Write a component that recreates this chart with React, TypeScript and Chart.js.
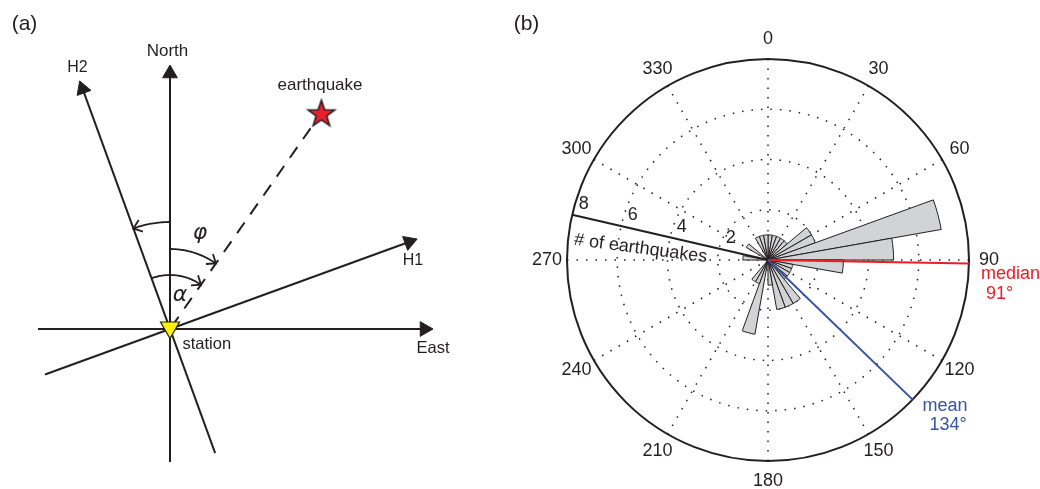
import React, { useEffect, useRef } from "react";
import { Chart, registerables } from "chart.js";
Chart.register(...registerables);

const FONT = '"Liberation Sans", Arial, sans-serif';
const INK = "#231f20";
const RED = "#ed1c24";
const BLUE = "#3953a4";

// ---------- Panel (b): rose diagram of back-azimuths ----------
const BIN_START_DEG = [0, 10, 20, 30, 40, 50, 60, 70, 80, 90, 100, 110, 120, 130, 140, 150, 160, 170, 180, 190, 200, 210, 220, 230, 240, 250, 260, 270, 280, 290, 300, 310, 320, 330, 340, 350];
const EQ_COUNTS = [1, 1, 1, 1, 1, 2, 2, 7, 5, 3, 1, 1, 1, 1, 2, 2, 2, 1, 0, 3, 1, 1, 0, 0, 0, 0, 0, 1, 0, 0, 1, 0, 0, 1, 1, 1];
const AZIMUTH_LABELS = ["0", "30", "60", "90", "120", "150", "180", "210", "240", "270", "300", "330"];
const COUNT_TICKS = [2, 4, 6, 8];
const COUNT_MAX = 8;
const COUNT_AXIS_DEG = 283;
const COUNT_AXIS_TITLE = "# of earthquakes";
const MEDIAN_DEG = 91;
const MEAN_DEG = 134;

// ---------- Panel (a): sketch geometry (station at origin, bearings from north) ----------
const AXIS_BEARINGS = [0, 90, 70, 340];
const AXIS_TAIL = [-133, -132, -133, -132];
const AXIS_TIP = [264, 263, 263, 264];
const QUAKE_BEARING = 35;
const QUAKE_DIST = 264;
const QUAKE_RAY = [2, 248];
const ARC_FROM = [0, -20, 0];
const ARC_TO = [35, 35, -20];
const ARC_RADIUS = [80, 54, 107];

const rad = (d: number) => (d * Math.PI) / 180;
const pt = (bearing: number, r: number) => ({ x: r * Math.sin(rad(bearing)), y: r * Math.cos(rad(bearing)) });

function makeStar(): HTMLCanvasElement {
  const c = document.createElement("canvas");
  c.width = 34;
  c.height = 34;
  const g = c.getContext("2d")!;
  g.beginPath();
  for (let i = 0; i < 10; i++) {
    const rr = i % 2 === 0 ? 14 : 5.6;
    const a = -Math.PI / 2 + (i * Math.PI) / 5;
    const x = 17 + rr * Math.cos(a);
    const y = 18.5 + rr * Math.sin(a);
    if (i === 0) g.moveTo(x, y);
    else g.lineTo(x, y);
  }
  g.closePath();
  g.fillStyle = "#e8202a";
  g.fill();
  g.lineWidth = 1.6;
  g.strokeStyle = INK;
  g.stroke();
  return c;
}

function sketchDatasets(): any[] {
  const ds: any[] = [];
  // station marker
  ds.push({
    data: [{ x: 0, y: 1.5 }],
    showLine: false,
    pointStyle: "triangle",
    rotation: 180,
    pointRadius: 11,
    backgroundColor: "#fff200",
    borderColor: INK,
    borderWidth: 1.2,
  });
  // earthquake marker
  ds.push({
    data: [pt(QUAKE_BEARING, QUAKE_DIST)],
    showLine: false,
    pointStyle: makeStar(),
    pointRadius: 14,
  });
  // axis arrowheads
  AXIS_BEARINGS.forEach((b, i) => {
    ds.push({
      data: [pt(b, AXIS_TIP[i] - 8.5)],
      showLine: false,
      pointStyle: "triangle",
      rotation: b,
      pointRadius: 8.5,
      backgroundColor: INK,
      borderColor: INK,
      borderWidth: 1,
    });
  });
  // axis lines
  AXIS_BEARINGS.forEach((b, i) => {
    ds.push({
      data: [pt(b, AXIS_TAIL[i]), pt(b, AXIS_TIP[i] - 8)],
      showLine: true,
      pointRadius: 0,
      borderColor: INK,
      borderWidth: 2,
    });
  });
  // dashed line to earthquake
  ds.push({
    data: [pt(QUAKE_BEARING, QUAKE_RAY[0]), pt(QUAKE_BEARING, QUAKE_RAY[1])],
    showLine: true,
    pointRadius: 0,
    borderColor: INK,
    borderWidth: 2,
    borderDash: [13, 10],
  });
  // angle arcs with open arrowheads
  ARC_FROM.forEach((from, i) => {
    const to = ARC_TO[i];
    const r = ARC_RADIUS[i];
    const s = Math.sign(to - from);
    const pts: any[] = [];
    for (let b = from; s * (to - b) >= 0; b += s) pts.push(pt(b, r));
    ds.push({ data: pts, showLine: true, pointRadius: 0, borderColor: INK, borderWidth: 1.8, tension: 0 });
    const tip = pt(to, r);
    const tx = s * Math.cos(rad(to));
    const ty = s * -Math.sin(rad(to));
    const L = 10;
    const th = rad(38);
    const wing = (sg: number) => {
      const c = Math.cos(sg * th), sn = Math.sin(sg * th);
      const rx = tx * c - ty * sn;
      const ry = tx * sn + ty * c;
      return { x: tip.x - L * rx, y: tip.y - L * ry };
    };
    ds.push({ data: [wing(1), tip, wing(-1)], showLine: true, pointRadius: 0, borderColor: INK, borderWidth: 1.8 });
  });
  return ds;
}

const sketchText = {
  id: "sketchText",
  afterDatasetsDraw(chart: any) {
    const { ctx } = chart;
    const x = chart.scales.x;
    const y = chart.scales.y;
    const put = (t: string, vx: number, vy: number, font: string, align: CanvasTextAlign = "center") => {
      ctx.save();
      ctx.font = font;
      ctx.textAlign = align;
      ctx.textBaseline = "middle";
      ctx.fillStyle = INK;
      ctx.fillText(t, x.getPixelForValue(vx), y.getPixelForValue(vy));
      ctx.restore();
    };
    const f17 = `17px ${FONT}`;
    put("(a)", -145.5, 305, `21px ${FONT}`);
    put("North", -2.5, 277.5, f17);
    put("H2", -92.5, 261, `16px ${FONT}`);
    put("earthquake", 150, 243.5, f17);
    put("H1", 243, 68, `16px ${FONT}`);
    put("East", 263, -19.5, `16.5px ${FONT}`);
    put("station", 12.5, -15.5, `16.5px ${FONT}`, "left");
    put("φ", 30, 96, `italic 22px "DejaVu Sans", ${FONT}`);
    put("α", 10, 34, `italic 22px "DejaVu Sans", ${FONT}`);
  },
};

const roseAnnotations = {
  id: "roseAnnotations",
  afterDatasetsDraw(chart: any) {
    const r = chart.scales.r;
    const ctx = chart.ctx as CanvasRenderingContext2D;
    const ray = (deg: number, value: number) => r.getPointPosition(0, r.getDistanceFromCenterForValue(value), rad(deg));
    const line = (deg: number, color: string, w: number) => {
      const e = ray(deg, COUNT_MAX);
      ctx.save();
      ctx.beginPath();
      ctx.moveTo(r.xCenter, r.yCenter);
      ctx.lineTo(e.x, e.y);
      ctx.strokeStyle = color;
      ctx.lineWidth = w;
      ctx.stroke();
      ctx.restore();
      return e;
    };
    const text = (t: string, x: number, y: number, color: string, align: CanvasTextAlign = "center", size = 18) => {
      ctx.save();
      ctx.font = `${size}px ${FONT}`;
      ctx.fillStyle = color;
      ctx.textAlign = align;
      ctx.textBaseline = "middle";
      ctx.fillText(t, x, y);
      ctx.restore();
    };

    // azimuth labels
    AZIMUTH_LABELS.forEach((lab) => {
      const idx = BIN_START_DEG.indexOf(Number(lab));
      const p = r.getPointPosition(idx, r.drawingArea + 20);
      text(lab, p.x, p.y, INK);
    });

    // count axis
    const axEnd = line(COUNT_AXIS_DEG, INK, 2);
    COUNT_TICKS.forEach((v) => {
      const p = ray(COUNT_AXIS_DEG, v);
      const a = p.angle;
      const x = p.x - 9 * Math.cos(a) - 13 * Math.sin(a);
      const y = p.y - 9 * Math.sin(a) + 13 * Math.cos(a);
      text(String(v), x, y, INK);
    });
    ctx.save();
    ctx.translate(axEnd.x + 2, axEnd.y + 25);
    ctx.rotate(rad(7.5));
    ctx.font = `18px ${FONT}`;
    ctx.fillStyle = INK;
    ctx.textAlign = "left";
    ctx.textBaseline = "middle";
    ctx.fillText(COUNT_AXIS_TITLE, 0, 0);
    ctx.restore();

    // median & mean
    const me = line(MEDIAN_DEG, RED, 2);
    text("median", me.x + 12, me.y + 11, RED, "left");
    text(`${MEDIAN_DEG}°`, me.x + 17, me.y + 31, RED, "left");
    const mn = line(MEAN_DEG, BLUE, 2);
    text("mean", mn.x + 10, mn.y + 6, BLUE, "left");
    text(`${MEAN_DEG}°`, mn.x + 17, mn.y + 25, BLUE, "left");

    // panel tag
    text("(b)", 26.5, 24, INK, "center", 21);
  },
};

export default function App() {
  const aRef = useRef<HTMLCanvasElement>(null);
  const bRef = useRef<HTMLCanvasElement>(null);

  useEffect(() => {
    const ca = new Chart(aRef.current!, {
      type: "scatter",
      data: { datasets: sketchDatasets() },
      options: {
        animation: false,
        responsive: false,
        events: [],
        layout: { padding: 0, autoPadding: false },
        plugins: { legend: { display: false }, tooltip: { enabled: false } },
        scales: {
          x: { type: "linear", min: -170, max: 330, display: false },
          y: { type: "linear", min: -160, max: 329, display: false },
        },
      },
      plugins: [sketchText],
    } as any);

    const cb = new Chart(bRef.current!, {
      type: "polarArea",
      data: {
        labels: BIN_START_DEG.map(String),
        datasets: [
          {
            data: EQ_COUNTS,
            backgroundColor: "#d1d3d4",
            borderColor: INK,
            borderWidth: 1,
          },
        ],
      },
      options: {
        animation: false,
        responsive: false,
        events: [],
        layout: { padding: { left: 67, right: 71, top: 59, bottom: 28 }, autoPadding: false },
        plugins: { legend: { display: false }, tooltip: { enabled: false } },
        scales: {
          r: {
            min: 0,
            max: COUNT_MAX,
            startAngle: 0,
            ticks: { display: false, stepSize: 2 },
            pointLabels: { display: false },
            grid: {
              circular: true,
              color: INK,
              lineWidth: (c: any) => (c.tick && c.tick.value === COUNT_MAX ? 2 : 1.5),
            },
            border: {
              dash: (c: any) => (c.tick && c.tick.value === COUNT_MAX ? [] : [1.5, 8]),
            },
            angleLines: {
              display: true,
              color: INK,
              lineWidth: (c: any) => (BIN_START_DEG[c.index] % 30 === 0 ? 1.5 : 0),
              borderDash: [1.5, 8],
            },
          },
        },
      },
      plugins: [roseAnnotations],
    } as any);

    return () => {
      ca.destroy();
      cb.destroy();
    };
  }, []);

  return (
    <div style={{ position: "fixed", left: 0, top: 0, width: 1040, height: 489, background: "#ffffff" }}>
      <canvas ref={aRef} width={500} height={489} style={{ position: "absolute", left: 0, top: 0, width: 500, height: 489 }} />
      <canvas ref={bRef} width={540} height={489} style={{ position: "absolute", left: 500, top: 0, width: 540, height: 489 }} />
    </div>
  );
}
